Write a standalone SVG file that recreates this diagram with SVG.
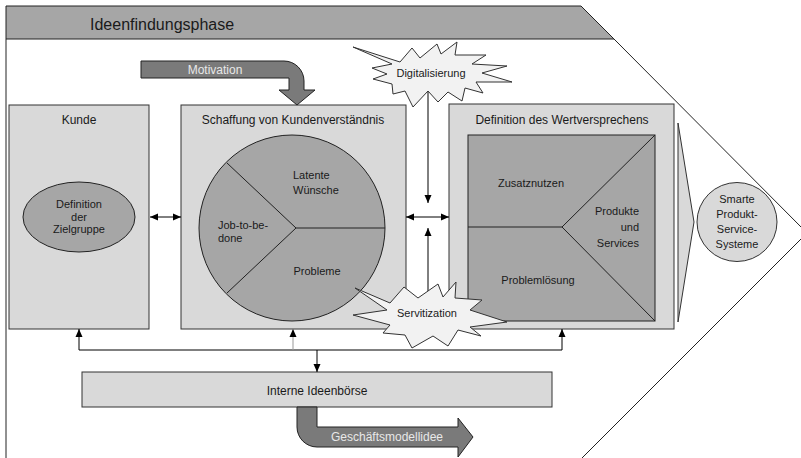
<svg xmlns="http://www.w3.org/2000/svg" width="801" height="458" viewBox="0 0 801 458">
<defs>
<marker id="ah" viewBox="0 0 8 8" refX="8" refY="4" markerWidth="8" markerHeight="8" markerUnits="userSpaceOnUse" orient="auto-start-reverse">
<path d="M0,0.5 L8,4 L0,7.5 Z" fill="#000"/>
</marker>
<style>
text{font-family:"Liberation Sans",Arial,sans-serif;fill:#1a1a1a}
.t12{font-size:12px}
.t11{font-size:11px}
.box{fill:#d9d9d9;stroke:#333;stroke-width:1}
.dark{fill:#a6a6a6;stroke:#222;stroke-width:1}
.star{fill:#f2f2f2;stroke:#333;stroke-width:1}
.big{fill:#7a7a7a;stroke:#222;stroke-width:1}
.lt{fill:#e8e8e8}
.c{stroke:#000;stroke-width:1;fill:none}
</style>
</defs>
<g id="frame">
<path d="M6,39 L6,6 L581,6 L614,39 Z" fill="#a6a6a6" stroke="none"/>
<path d="M6,458 L6,6 L581,6 L614,39 L807,233 L582,458" fill="none" stroke="#222" stroke-width="1"/>
<line x1="6" y1="39" x2="614" y2="39" stroke="#222" stroke-width="1"/>
<text x="90" y="30" style="font-size:16px">Ideenfindungsphase</text>
</g>
<g id="kunde">
<rect class="box" x="9" y="105" width="140" height="224"/>
<text class="t12" x="79" y="123.5" text-anchor="middle">Kunde</text>
<ellipse class="dark" cx="79" cy="217" rx="56" ry="35"/>
<text class="t11" x="79" y="208" text-anchor="middle">Definition</text>
<text class="t11" x="79" y="221" text-anchor="middle">der</text>
<text class="t11" x="79" y="233" text-anchor="middle">Zielgruppe</text>
</g>
<g id="schaffung">
<rect class="box" x="181" y="105" width="225" height="224"/>
<text class="t12" x="293" y="123.5" text-anchor="middle">Schaffung von Kundenverständnis</text>
<circle class="dark" cx="292" cy="228" r="93"/>
<path d="M227,163 L296,228 L385,228 M296,228 L227,293" stroke="#222" stroke-width="1" fill="none"/>
<text class="t11" x="293" y="179">Latente</text>
<text class="t11" x="293" y="194">Wünsche</text>
<text class="t11" x="218" y="229">Job-to-be-</text>
<text class="t11" x="218" y="242">done</text>
<text class="t11" x="317" y="275" text-anchor="middle">Probleme</text>
</g>
<g id="wertversprechen">
<rect class="box" x="449" y="104" width="225" height="225"/>
<text class="t12" x="562" y="123.5" text-anchor="middle">Definition des Wertversprechens</text>
<rect class="dark" x="468" y="135" width="187" height="186"/>
<path d="M655,135 L562,227 L655,321 M468,227 L562,227" stroke="#222" stroke-width="1" fill="none"/>
<text class="t11" x="531" y="187" text-anchor="middle">Zusatznutzen</text>
<text class="t11" x="639" y="215" text-anchor="end">Produkte</text>
<text class="t11" x="639" y="231" text-anchor="end">und</text>
<text class="t11" x="639" y="247" text-anchor="end">Services</text>
<text class="t11" x="538" y="284" text-anchor="middle">Problemlösung</text>
</g>
<g id="chevron">
<path d="M678,123 L694,222 L678,322 Z" fill="#d9d9d9" stroke="#333" stroke-width="1"/>
</g>
<g id="pss">
<ellipse cx="737" cy="222" rx="40" ry="39.5" fill="#d9d9d9" stroke="#333" stroke-width="1"/>
<text class="t11" x="737" y="203" text-anchor="middle">Smarte</text>
<text class="t11" x="737" y="218" text-anchor="middle">Produkt-</text>
<text class="t11" x="737" y="233" text-anchor="middle">Service-</text>
<text class="t11" x="737" y="248" text-anchor="middle">Systeme</text>
</g>
<g id="ideenboerse">
<rect class="box" x="82" y="372" width="470" height="35"/>
<text class="t12" x="317" y="395" text-anchor="middle">Interne Ideenbörse</text>
</g>
<g id="motivation">
<path class="big" d="M141,61 L284,61 C295,61 304,70 304,81 L304,90 L315,90 L297,105 L279,90 L289,90 L289,78 L141,78 Z"/>
<text class="t12 lt" x="215" y="74" text-anchor="middle">Motivation</text>
</g>
<g id="geschaeftsmodellidee">
<path class="big" d="M297,407 L317,407 L317,427 L458,427 L458,418 L473,437 L458,457 L458,447 L317,447 C306,447 297,438 297,427 Z"/>
<text class="t12 lt" x="387" y="441" text-anchor="middle">Geschäftsmodellidee</text>
</g>
<g id="connectors">
<line class="c" x1="150" y1="217" x2="181" y2="217" marker-start="url(#ah)" marker-end="url(#ah)"/>
<line class="c" x1="406" y1="217" x2="449" y2="217" marker-start="url(#ah)" marker-end="url(#ah)"/>
<line class="c" x1="428" y1="92" x2="428" y2="203" marker-end="url(#ah)"/>
<line class="c" x1="428" y1="298" x2="428" y2="228" marker-end="url(#ah)"/>
<path class="c" d="M79,350 L562,350"/>
<line class="c" x1="79" y1="350" x2="79" y2="329" marker-end="url(#ah)"/>
<line x1="293" y1="350" x2="293" y2="329" stroke="#999" stroke-width="1" marker-end="url(#ah)"/>
<line class="c" x1="562" y1="350" x2="562" y2="329" marker-end="url(#ah)"/>
<line class="c" x1="317" y1="350" x2="317" y2="372" marker-end="url(#ah)"/>
</g>
<g id="digitalisierung">
<path class="star" d="M353,47 L400,62 L412,48 L420,58 L437,44 L441,54 L457,42 L455,55 L486,55 L472,64 L507,66 L482,73 L512,82 L476,82 L483,93 L465,88 L462,101 L448,92 L438,102 L428,91 L413,107 L405,91 L393,94 L392,84 L373,79 L387,74 L372,68 L392,64 Z"/>
<text class="t11" x="431" y="77" text-anchor="middle">Digitalisierung</text>
</g>
<g id="servitization">
<path class="star" d="M355,288 L390,303 L404,287 L418,298 L438,284 L443,297 L456,282 L455,298 L482,300 L470,310 L507,322 L470,327 L481,336 L458,330 L448,346 L433,336 L412,348 L405,335 L383,333 L390,325 L353,315 L387,310 Z"/>
<text class="t11" x="427" y="317" text-anchor="middle">Servitization</text>
</g>
</svg>
